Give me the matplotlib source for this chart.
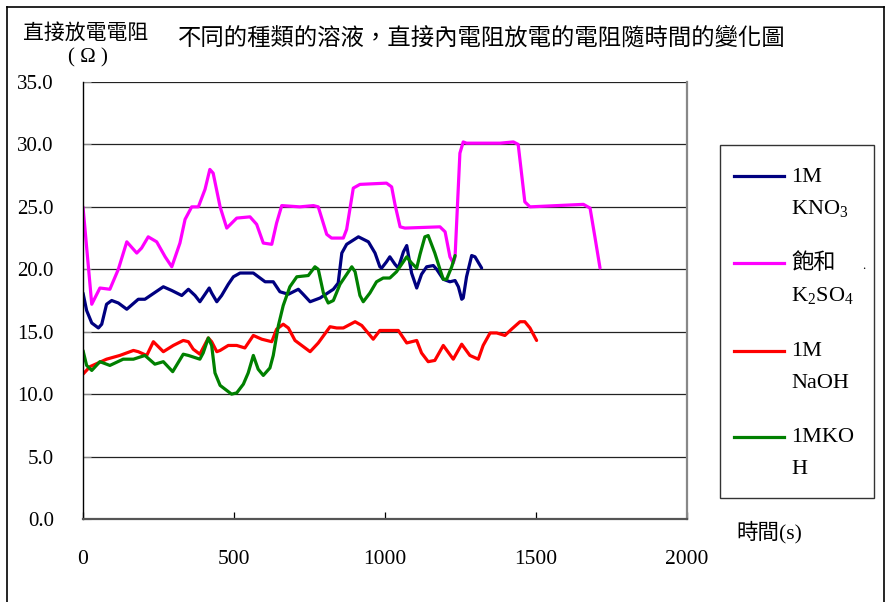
import numpy as np
import matplotlib
matplotlib.use("Agg")
import matplotlib.pyplot as plt
from matplotlib.patches import Rectangle
from matplotlib.lines import Line2D

plt.rcParams['font.family'] = ['Liberation Serif', 'Noto Sans CJK TC']
plt.rcParams['mathtext.fontset'] = 'custom'
plt.rcParams['mathtext.rm'] = 'Liberation Serif'

# time (s) and resistance (ohm)
t_kno3 = [0, 12, 29, 51, 62, 78, 95, 117, 145, 183, 205, 266, 294, 327, 349, 371, 387, 404, 418,
          426, 443, 459, 481, 498, 520, 564, 603, 630, 652, 680, 713, 729, 752, 785, 829, 845,
          857, 873, 912, 945, 967, 983, 989, 1005, 1016, 1033, 1044, 1061, 1072, 1088, 1105,
          1121, 1138, 1160, 1171, 1193, 1215, 1232, 1243, 1254, 1259, 1270, 1287, 1298, 1320]
r_kno3 = [18.1, 16.7, 15.7, 15.3, 15.6, 17.2, 17.5, 17.3, 16.8, 17.6, 17.6, 18.6, 18.3, 17.9, 18.4,
          17.9, 17.4, 18.0, 18.5, 18.1, 17.4, 17.9, 18.8, 19.4, 19.7, 19.7, 19.0, 19.0, 18.2, 18.0,
          18.4, 18.0, 17.4, 17.7, 18.4, 18.9, 21.3, 22.0, 22.6, 22.2, 21.3, 20.2, 20.1, 20.6, 21.0,
          20.4, 20.1, 21.4, 21.9, 19.7, 18.5, 19.6, 20.2, 20.3, 20.0, 19.2, 19.0, 19.1, 18.6, 17.6,
          17.7, 19.4, 21.1, 21.0, 20.1]

t_k2so4 = [0, 29, 56, 89, 117, 145, 178, 194, 216, 244, 272, 294, 321, 338, 360, 382, 404, 420,
           431, 454, 476, 509, 553, 575, 597, 625, 641, 658, 718, 763, 779, 807, 823, 862, 873,
           895, 917, 1005, 1022, 1033, 1050, 1066, 1182, 1199, 1215, 1226, 1232, 1248, 1259, 1270,
           1381, 1425, 1441, 1452, 1463, 1480, 1657, 1679, 1695, 1712]
r_k2so4 = [25.0, 17.2, 18.5, 18.4, 20.0, 22.2, 21.3, 21.7, 22.6, 22.2, 21.0, 20.2, 22.1, 24.0,
           25.0, 25.0, 26.4, 28.0, 27.7, 25.0, 23.3, 24.1, 24.2, 23.6, 22.1, 22.0, 23.7, 25.1,
           25.0, 25.1, 25.0, 22.8, 22.5, 22.5, 23.2, 26.5, 26.8, 26.9, 26.6, 25.2, 23.4, 23.3,
           23.4, 23.0, 21.0, 20.5, 21.0, 29.3, 30.2, 30.1, 30.1, 30.2, 30.0, 27.7, 25.4, 25.0,
           25.2, 24.9, 22.6, 20.1]

t_naoh = [0, 23, 78, 122, 167, 183, 211, 233, 266, 299, 332, 349, 365, 387, 415, 426, 443, 454,
          481, 509, 536, 564, 592, 625, 641, 663, 680, 702, 752, 779, 818, 840, 862, 901, 923,
          961, 983, 1044, 1072, 1105, 1121, 1143, 1165, 1193, 1226, 1254, 1281, 1309, 1325,
          1348, 1370, 1397, 1419, 1447, 1463, 1480, 1502]
r_naoh = [11.6, 12.2, 12.8, 13.1, 13.5, 13.4, 13.1, 14.2, 13.4, 13.9, 14.3, 14.2, 13.6, 13.2,
          14.5, 14.2, 13.4, 13.5, 13.9, 13.9, 13.7, 14.7, 14.4, 14.2, 15.2, 15.6, 15.3, 14.3,
          13.4, 14.1, 15.4, 15.3, 15.3, 15.8, 15.5, 14.4, 15.1, 15.1, 14.1, 14.3, 13.3, 12.6,
          12.7, 13.9, 12.8, 14.0, 13.1, 12.8, 13.9, 14.9, 14.9, 14.7, 15.2, 15.8, 15.8, 15.3, 14.3]

t_koh = [0, 12, 29, 56, 89, 133, 167, 205, 238, 266, 297, 332, 349, 387, 398, 415, 426, 437,
         454, 492, 509, 531, 547, 564, 580, 597, 619, 630, 647, 663, 685, 708, 746, 768, 779,
         796, 812, 829, 851, 890, 901, 917, 928, 950, 972, 994, 1016, 1038, 1072, 1088, 1105,
         1116, 1132, 1143, 1165, 1182, 1193, 1204, 1221, 1232]
r_koh = [13.5, 12.3, 11.9, 12.6, 12.3, 12.8, 12.8, 13.1, 12.4, 12.6, 11.8, 13.2, 13.1, 12.8,
         13.3, 14.5, 13.9, 11.7, 10.7, 10.0, 10.1, 10.8, 11.7, 13.1, 12.0, 11.5, 12.1, 13.1,
         15.5, 17.1, 18.6, 19.4, 19.5, 20.2, 20.0, 18.1, 17.3, 17.5, 18.8, 20.2, 19.8, 17.9,
         17.4, 18.1, 19.0, 19.3, 19.3, 19.8, 21.0, 20.5, 20.1, 21.2, 22.6, 22.7, 21.3, 20.0,
         19.2, 19.2, 20.2, 21.1]

series = [
    (t_kno3, r_kno3, '#000080'),
    (t_k2so4, r_k2so4, '#FF00FF'),
    (t_naoh, r_naoh, '#FF0000'),
    (t_koh, r_koh, '#008000'),
]
legend_text = [
    ('1M', 'KNO$_\\mathrm{3}$'),
    ('飽和', 'K$_\\mathrm{2}$SO$_\\mathrm{4}$'),
    ('1M', 'NaOH'),
    ('1MKO', 'H'),
]

W, H = 886, 602
fig = plt.figure(figsize=(W / 100, H / 100), dpi=100)

def fx(px):
    return px / W

def fy(py):
    return 1 - py / H

ax = fig.add_axes([fx(83), fy(519), fx(687) - fx(83), fy(82) - fy(519)])
for t, r, c in series:
    ax.plot(t, r, color=c, lw=2.3, solid_joinstyle='round', solid_capstyle='round')

ax.set_xlim(0, 2000)
ax.set_ylim(0, 35)
ax.set_xticks([0, 500, 1000, 1500, 2000])
ax.set_yticks(np.arange(0, 36, 5))
ax.set_yticklabels(['%.1f' % v for v in np.arange(0, 36, 5)])
ax.yaxis.grid(True, color='#222222', lw=0.9)
ax.set_axisbelow(True)
ax.tick_params(axis='y', direction='in', length=6, width=0.8, color='#888888', pad=21, labelsize=15)
ax.tick_params(axis='x', direction='in', length=5, width=0.9, color='black', pad=22, labelsize=15.5)
ax.spines['top'].set_visible(False)
ax.spines['left'].set_color('black')
ax.spines['left'].set_linewidth(1.0)
ax.spines['bottom'].set_color('#555555')
ax.spines['bottom'].set_linewidth(1.6)
ax.spines['right'].set_color('#888888')
ax.spines['right'].set_linewidth(1.6)

# texts
fig.text(fx(86), fy(34), '直接放電電阻', ha='center', va='center', fontsize=15)
fig.text(fx(88), fy(58), '( Ω )', ha='center', va='center', fontsize=15)
fig.text(fx(482), fy(38), '不同的種類的溶液，直接內電阻放電的電阻隨時間的變化圖',
         ha='center', va='center', fontsize=16.8)
fig.text(fx(769), fy(532), '時間(s)', ha='center', va='center', fontsize=15.5)

# legend box
fig.add_artist(Rectangle((fx(720), fy(498)), fx(874) - fx(720), fy(145) - fy(498),
                         transform=fig.transFigure, fill=False, ec='#333333', lw=1.0))
handle_y = [176, 263, 351, 437]
for (t, r, c), (l1, l2), hy in zip(series, legend_text, handle_y):
    fig.add_artist(Line2D([fx(734), fx(784)], [fy(hy), fy(hy)], color=c, lw=2.3,
                          transform=fig.transFigure))
    fig.text(fx(791), fy(hy + 1), l1, ha='left', va='center', fontsize=16)
    fig.text(fx(791), fy(hy + 33), l2, ha='left', va='center', fontsize=16)
fig.text(fx(864), fy(266), '.', ha='center', va='center', fontsize=9)

# outer frame
for xs, ys in [([7, 7], [7, 602]), ([7, 884], [7, 7]), ([884, 884], [7, 602])]:
    fig.add_artist(Line2D([fx(x) for x in xs], [fy(y) for y in ys], color='black', lw=1.2,
                          transform=fig.transFigure))

fig.savefig('out.png', dpi=100)
